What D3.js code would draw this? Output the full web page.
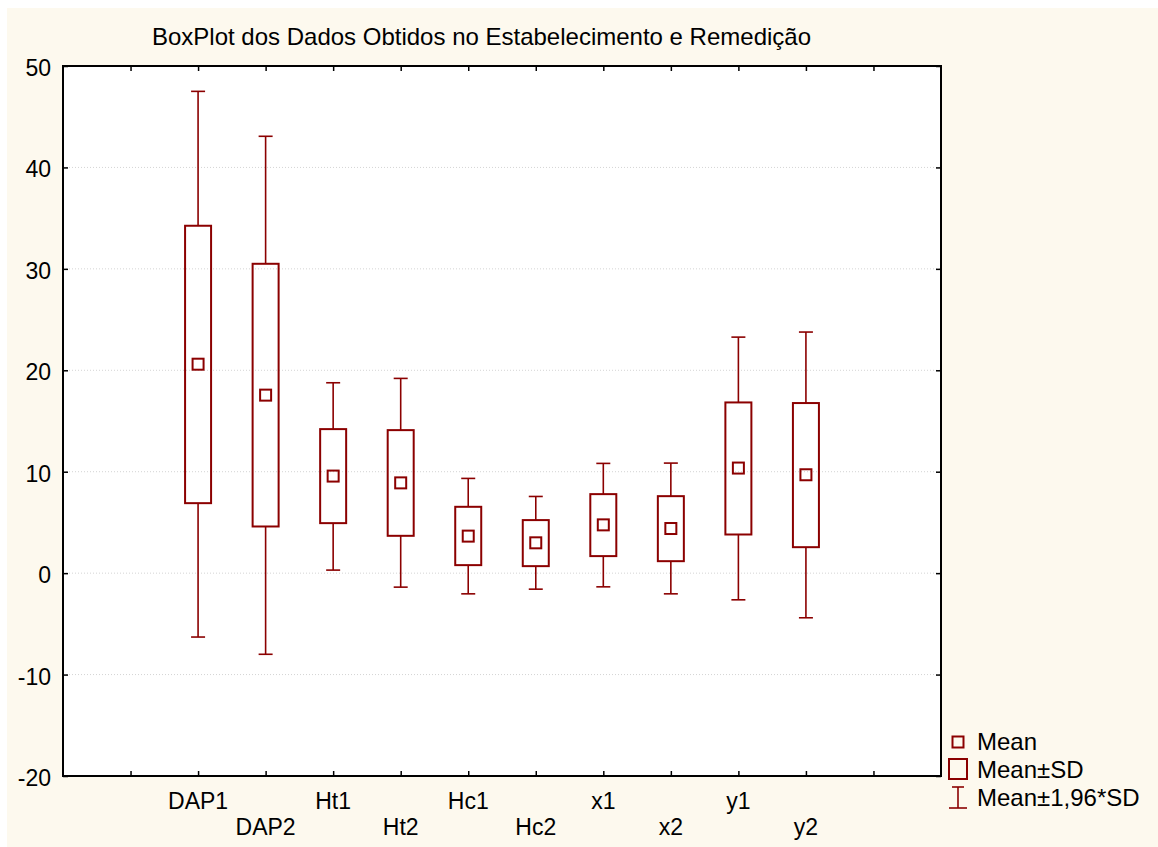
<!DOCTYPE html>
<html>
<head>
<meta charset="utf-8">
<script src="https://cdn.jsdelivr.net/npm/d3@7"></script>
<style>
  html, body { margin: 0; padding: 0; background: #ffffff; }
  svg { display: block; }
  text { font-family: "Liberation Sans", Arial, sans-serif; fill: #000; }
</style>
</head>
<body>
<svg id="chart" width="1158" height="847"></svg>
<script>
// ---- data ----
const categories = ["DAP1", "DAP2", "Ht1", "Ht2", "Hc1", "Hc2", "x1", "x2", "y1", "y2"];
const means   = [20.6, 17.55, 9.57, 8.9, 3.65, 2.99, 4.76, 4.4, 10.36, 9.7];
const sdLow   = [6.9, 4.6, 4.93, 3.68, 0.79, 0.69, 1.68, 1.18, 3.81, 2.56];
const sdHigh  = [34.25, 30.5, 14.2, 14.1, 6.54, 5.23, 7.79, 7.59, 16.83, 16.77];
const ciLow   = [-6.3, -8.0, 0.3, -1.38, -2.04, -1.58, -1.35, -2.04, -2.63, -4.4];
const ciHigh  = [47.5, 43.07, 18.77, 19.2, 9.34, 7.56, 10.82, 10.85, 23.27, 23.77];
const yTicks  = [-20, -10, 0, 10, 20, 30, 40, 50];
const legendLabels = ["Mean", "Mean\u00B1SD", "Mean\u00B11,96*SD"];
const titleText = "BoxPlot dos Dados Obtidos no Estabelecimento e Remedi\u00E7\u00E3o";

// ---- layout ----
const svg = d3.select("#chart");
const color = "#8B0000";
const plot = { left: 63, right: 941, top: 66, bottom: 776 };
const fontSize = 23;

svg.append("rect").attr("x", 7).attr("y", 8).attr("width", 1158 - 7).attr("height", 847 - 8)
  .attr("fill", "#FDF9EE");
svg.append("rect").attr("x", plot.left).attr("y", plot.top)
  .attr("width", plot.right - plot.left).attr("height", plot.bottom - plot.top).attr("fill", "#ffffff");

// x: 13 slots, ticks at 1..12, categories at 2..11
const x = d3.scaleLinear().domain([0, 13]).range([plot.left, plot.right]);
const y = d3.scaleLinear().domain([-20, 50]).range([plot.bottom, plot.top]);
const catPos = (i) => x(i + 2);

// gridlines
svg.append("g").selectAll("line").data(yTicks.filter(t => t > -20 && t < 50)).join("line")
  .attr("x1", plot.left).attr("x2", plot.right)
  .attr("y1", d => y(d)).attr("y2", d => y(d))
  .attr("stroke", "#d4d4d4").attr("stroke-width", 1).attr("stroke-dasharray", "1,2");

// axes with inward ticks
const tickVals = d3.range(1, 13);
svg.append("g").attr("transform", `translate(0,${plot.bottom})`)
  .call(d3.axisTop(x).tickValues(tickVals).tickSize(5).tickFormat(""))
  .call(g => g.select(".domain").remove())
  .call(g => g.selectAll("line").attr("stroke", "#000").attr("stroke-width", 1.5));
svg.append("g").attr("transform", `translate(0,${plot.top})`)
  .call(d3.axisBottom(x).tickValues(tickVals).tickSize(5).tickFormat(""))
  .call(g => g.select(".domain").remove())
  .call(g => g.selectAll("line").attr("stroke", "#000").attr("stroke-width", 1.5));
svg.append("g").attr("transform", `translate(${plot.left},0)`)
  .call(d3.axisRight(y).tickValues(yTicks).tickSize(5).tickFormat(""))
  .call(g => g.select(".domain").remove())
  .call(g => g.selectAll("line").attr("stroke", "#000").attr("stroke-width", 1.5));
svg.append("g").attr("transform", `translate(${plot.right},0)`)
  .call(d3.axisLeft(y).tickValues(yTicks).tickSize(5).tickFormat(""))
  .call(g => g.select(".domain").remove())
  .call(g => g.selectAll("line").attr("stroke", "#000").attr("stroke-width", 1.5));

// frame
svg.append("rect").attr("x", plot.left).attr("y", plot.top)
  .attr("width", plot.right - plot.left).attr("height", plot.bottom - plot.top)
  .attr("fill", "none").attr("stroke", "#000").attr("stroke-width", 2);

// y labels
svg.append("g").selectAll("text").data(yTicks).join("text")
  .attr("x", plot.left - 12).attr("y", d => y(d) + 2)
  .attr("text-anchor", "end").attr("dominant-baseline", "central")
  .attr("font-size", fontSize).text(d => d);

// x labels (staggered)
svg.append("g").selectAll("text").data(categories).join("text")
  .attr("x", (d, i) => catPos(i))
  .attr("y", (d, i) => i % 2 === 0 ? 809 : 835)
  .attr("text-anchor", "middle").attr("font-size", fontSize).text(d => d);

// title
svg.append("text").attr("x", 481.5).attr("y", 45).attr("text-anchor", "middle")
  .attr("font-size", 24).text(titleText);

// boxes
const boxW = 26, capW = 14, meanS = 11;
const g = svg.append("g");
categories.forEach((c, i) => {
  const cx = catPos(i);
  g.append("line").attr("x1", cx).attr("x2", cx).attr("y1", y(ciHigh[i])).attr("y2", y(sdHigh[i]))
    .attr("stroke", color).attr("stroke-width", 1.6);
  g.append("line").attr("x1", cx).attr("x2", cx).attr("y1", y(sdLow[i])).attr("y2", y(ciLow[i]))
    .attr("stroke", color).attr("stroke-width", 1.6);
  [ciHigh[i], ciLow[i]].forEach(v => {
    g.append("line").attr("x1", cx - capW / 2).attr("x2", cx + capW / 2)
      .attr("y1", y(v)).attr("y2", y(v)).attr("stroke", color).attr("stroke-width", 1.6);
  });
  g.append("rect").attr("x", cx - boxW / 2).attr("y", y(sdHigh[i]))
    .attr("width", boxW).attr("height", y(sdLow[i]) - y(sdHigh[i]))
    .attr("fill", "none").attr("stroke", color).attr("stroke-width", 2);
  g.append("rect").attr("x", cx - meanS / 2).attr("y", y(means[i]) - meanS / 2)
    .attr("width", meanS).attr("height", meanS)
    .attr("fill", "none").attr("stroke", color).attr("stroke-width", 2);
});

// legend
const lg = svg.append("g");
const lx = 958;
lg.append("rect").attr("x", lx - 5.5).attr("y", 742 - 5.5).attr("width", 11).attr("height", 11)
  .attr("fill", "none").attr("stroke", color).attr("stroke-width", 2);
lg.append("rect").attr("x", lx - 9).attr("y", 759).attr("width", 18).attr("height", 20)
  .attr("fill", "none").attr("stroke", color).attr("stroke-width", 2);
lg.append("line").attr("x1", lx).attr("x2", lx).attr("y1", 787).attr("y2", 808)
  .attr("stroke", color).attr("stroke-width", 1.6);
lg.append("line").attr("x1", lx - 6).attr("x2", lx + 6).attr("y1", 787).attr("y2", 787)
  .attr("stroke", color).attr("stroke-width", 1.6);
lg.append("line").attr("x1", lx - 9).attr("x2", lx + 9).attr("y1", 808).attr("y2", 808)
  .attr("stroke", color).attr("stroke-width", 1.6);
lg.selectAll("text").data(legendLabels).join("text")
  .attr("x", 977).attr("y", (d, i) => 750 + i * 28)
  .attr("font-size", 24).text(d => d);
</script>
</body>
</html>
